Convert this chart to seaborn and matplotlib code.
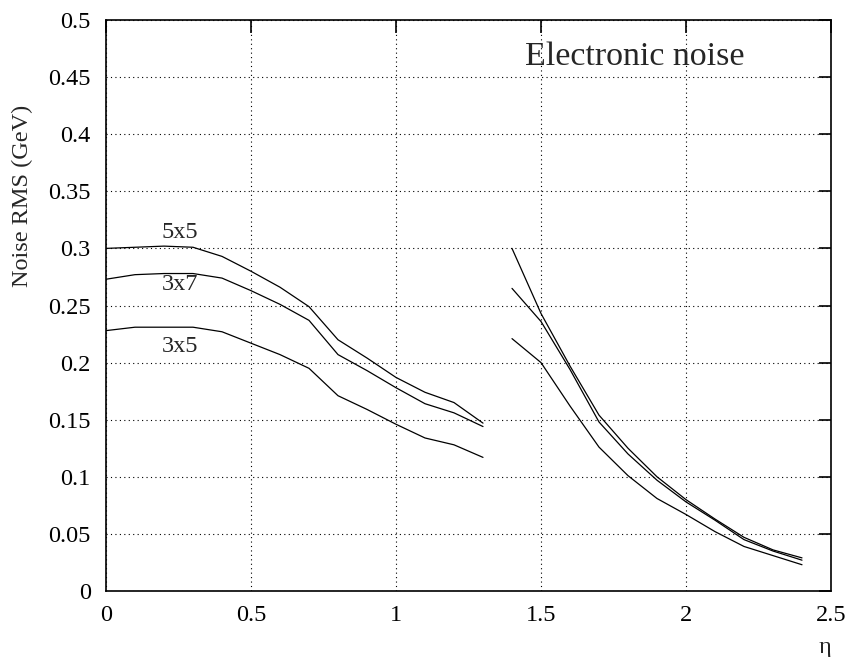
import matplotlib
matplotlib.use("Agg")
import matplotlib.pyplot as plt
import seaborn as sns
import pandas as pd

# ---- data ----
eta_barrel = [0.0, 0.1, 0.2, 0.3, 0.4, 0.5, 0.6, 0.7, 0.8, 0.9, 1.0, 1.1, 1.2, 1.3]
barrel_5x5 = [0.300, 0.301, 0.302, 0.301, 0.293, 0.280, 0.266, 0.249, 0.220, 0.204, 0.187, 0.174, 0.165, 0.147]
barrel_3x7 = [0.273, 0.277, 0.278, 0.278, 0.274, 0.263, 0.251, 0.237, 0.207, 0.193, 0.178, 0.164, 0.156, 0.144]
barrel_3x5 = [0.228, 0.231, 0.231, 0.231, 0.227, 0.217, 0.207, 0.195, 0.171, 0.159, 0.146, 0.134, 0.128, 0.117]

eta_endcap = [1.4, 1.5, 1.6, 1.7, 1.8, 1.9, 2.0, 2.1, 2.2, 2.3, 2.4]
endcap_5x5 = [0.300, 0.243, 0.197, 0.154, 0.125, 0.100, 0.080, 0.063, 0.047, 0.036, 0.029]
endcap_3x7 = [0.265, 0.236, 0.194, 0.148, 0.120, 0.097, 0.078, 0.062, 0.045, 0.035, 0.027]
endcap_3x5 = [0.221, 0.200, 0.162, 0.126, 0.101, 0.081, 0.067, 0.052, 0.039, 0.031, 0.023]

cluster_sizes = ["5x5", "3x7", "3x5"]
x_ticks = [0, 0.5, 1, 1.5, 2, 2.5]
x_tick_labels = ["0", "0.5", "1", "1.5", "2", "2.5"]
y_ticks = [0, 0.05, 0.1, 0.15, 0.2, 0.25, 0.3, 0.35, 0.4, 0.45, 0.5]
y_tick_labels = ["0", "0.05", "0.1", "0.15", "0.2", "0.25", "0.3", "0.35", "0.4", "0.45", "0.5"]
title_text = "Electronic noise"
y_label = "Noise RMS (GeV)"
x_label = "η"

# ---- long table ----
rows = []
for seg, eta, series in [("barrel", eta_barrel, [barrel_5x5, barrel_3x7, barrel_3x5]),
                         ("endcap", eta_endcap, [endcap_5x5, endcap_3x7, endcap_3x5])]:
    for size, vals in zip(cluster_sizes, series):
        for e, v in zip(eta, vals):
            rows.append({"eta": e, "noise": v, "size": size, "unit": f"{seg}_{size}"})
df = pd.DataFrame(rows)

sns.set_theme(style="white")
plt.rcParams["font.family"] = ["Liberation Serif", "DejaVu Serif"]

fig = plt.figure(figsize=(8.49, 6.57), dpi=100)
ax = fig.add_axes([106 / 849, 1 - 591 / 657, (831 - 106) / 849, (591 - 20) / 657])

sns.lineplot(data=df, x="eta", y="noise", hue="size", units="unit", estimator=None,
             palette={s: "black" for s in cluster_sizes}, linewidth=0.9,
             legend=False, sort=False, ax=ax)

ax.set_xlim(0, 2.5)
ax.set_ylim(0, 0.5)
ax.set_xticks(x_ticks)
ax.set_xticklabels(x_tick_labels)
ax.set_yticks(y_ticks)
ax.set_yticklabels(y_tick_labels)

ax.grid(True, color="black", linestyle=(0, (1, 3)), linewidth=0.8)
for s in ax.spines.values():
    s.set_color("black")
    s.set_linewidth(1.2)
    s.set_visible(True)

ax.tick_params(axis="both", which="major", direction="in", length=9, width=1.2,
               top=True, right=True, labelsize=17.5, colors="black")
ax.tick_params(axis="y", pad=11)
ax.tick_params(axis="x", pad=10)

ax.set_ylabel(y_label, fontsize=17.5)
ax.yaxis.set_label_coords((33 - 106) / 725, (591 - 196) / 571)
ax.set_xlabel(x_label, fontsize=17.5, loc="right", labelpad=8)

ax.text(1.824, 0.468, title_text, fontsize=24.5, ha="center", va="center")
ax.text(0.255, 0.314, "5x5", fontsize=17.5, ha="center", va="center")
ax.text(0.255, 0.268, "3x7", fontsize=17.5, ha="center", va="center")
ax.text(0.255, 0.214, "3x5", fontsize=17.5, ha="center", va="center")

fig.savefig("out.png", dpi=100, facecolor="white")
